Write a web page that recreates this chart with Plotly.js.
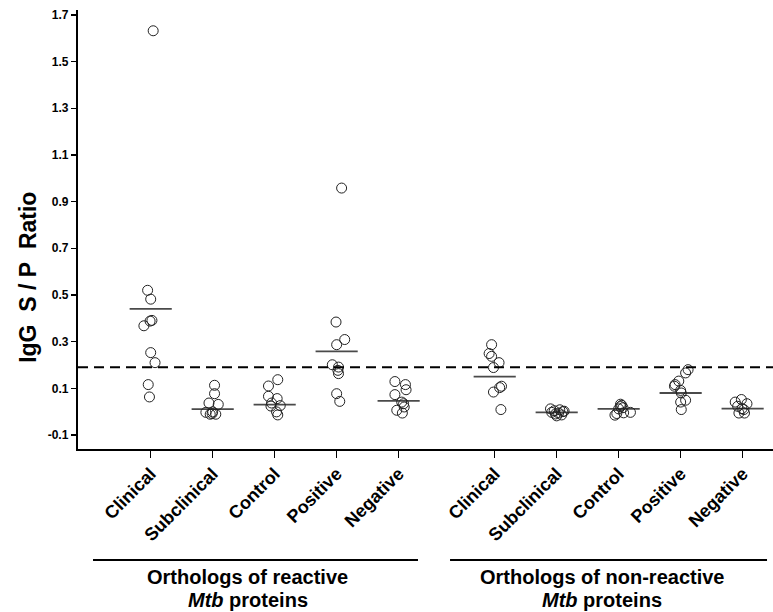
<!DOCTYPE html>
<html><head><meta charset="utf-8">
<script src="https://cdn.plot.ly/plotly-3.0.1.min.js"></script>
<style>html,body{margin:0;padding:0;background:#fff;}#chart{width:773px;height:612px;}</style>
</head><body><div id="chart"></div>
<script>
// ---------- data ----------
const categories = ['Clinical', 'Subclinical', 'Control', 'Positive', 'Negative'];
const groupLine1 = ['Orthologs of reactive', 'Orthologs of non-reactive'];
const groupLine2 = ['<i>Mtb</i> proteins', '<i>Mtb</i> proteins'];
const yTickValues = [-0.1, 0.1, 0.3, 0.5, 0.7, 0.9, 1.1, 1.3, 1.5, 1.7];
const yTickLabels = ['-0.1', '0.1', '0.3', '0.5', '0.7', '0.9', '1.1', '1.3', '1.5', '1.7'];
const yTitle = 'IgG\u00a0 S / P\u00a0 Ratio';
const cutoff = 0.19;

// Orthologs of reactive Mtb proteins
const reactiveClinical      = [1.632, 0.52, 0.482, 0.391, 0.388, 0.368, 0.253, 0.21, 0.116, 0.063];
const reactiveClinicalJit   = [0.04, -0.05, 0.0, 0.02, -0.01, -0.11, 0.0, 0.07, -0.04, -0.02];
const reactiveSubclinical   = [0.113, 0.077, 0.037, 0.031, -0.003, -0.001, -0.011, -0.011, -0.008];
const reactiveSubclinicalJit= [0.03, 0.03, -0.06, 0.09, -0.11, 0.0, 0.05, -0.04, -0.01];
const reactiveControl       = [0.137, 0.110, 0.066, 0.056, 0.037, 0.026, 0.024, -0.001, -0.014];
const reactiveControlJit    = [0.05, -0.10, -0.10, 0.04, -0.05, 0.09, -0.06, 0.03, 0.05];
const reactivePositive      = [0.958, 0.384, 0.309, 0.287, 0.201, 0.191, 0.177, 0.163, 0.077, 0.044];
const reactivePositiveJit   = [0.08, -0.01, 0.13, 0.0, -0.07, 0.03, 0.02, 0.03, 0.0, 0.05];
const reactiveNegative      = [0.129, 0.116, 0.094, 0.073, 0.041, 0.034, 0.020, 0.006, -0.006];
const reactiveNegativeJit   = [-0.06, 0.11, 0.12, -0.06, 0.05, 0.08, 0.09, -0.03, 0.06];
const reactiveMeans         = [0.44, 0.011, 0.03, 0.258, 0.046];

// Orthologs of non-reactive Mtb proteins
const nonReactiveClinical      = [0.287, 0.249, 0.237, 0.210, 0.189, 0.109, 0.103, 0.084, 0.009];
const nonReactiveClinicalJit   = [-0.05, -0.09, -0.05, 0.07, -0.02, 0.11, 0.08, -0.02, 0.10];
const nonReactiveSubclinical   = [0.012, 0.008, 0.004, 0.0, -0.003, -0.006, -0.010, -0.014, -0.018, 0.002];
const nonReactiveSubclinicalJit= [-0.10, 0.05, -0.04, 0.10, -0.08, 0.03, -0.02, 0.08, 0.0, 0.12];
const nonReactiveControl       = [0.032, 0.027, 0.022, 0.017, 0.012, -0.008, -0.005, -0.003, -0.015];
const nonReactiveControlJit    = [0.03, 0.05, 0.03, 0.07, 0.0, -0.03, 0.08, 0.19, -0.06];
const nonReactivePositive      = [0.180, 0.166, 0.131, 0.116, 0.109, 0.091, 0.080, 0.049, 0.041, 0.009];
const nonReactivePositiveJit   = [0.12, 0.08, -0.03, -0.09, -0.10, 0.0, 0.01, 0.08, 0.0, 0.01];
const nonReactiveNegative      = [0.052, 0.041, 0.034, 0.023, 0.013, 0.009, -0.006, -0.006];
const nonReactiveNegativeJit   = [-0.02, -0.12, 0.07, -0.08, -0.01, 0.02, -0.06, 0.03];
const nonReactiveMeans         = [0.15, -0.003, 0.012, 0.08, 0.013];

// ---------- build ----------
const groups = [
  [reactiveClinical, reactiveClinicalJit], [reactiveSubclinical, reactiveSubclinicalJit],
  [reactiveControl, reactiveControlJit], [reactivePositive, reactivePositiveJit],
  [reactiveNegative, reactiveNegativeJit],
  [nonReactiveClinical, nonReactiveClinicalJit], [nonReactiveSubclinical, nonReactiveSubclinicalJit],
  [nonReactiveControl, nonReactiveControlJit], [nonReactivePositive, nonReactivePositiveJit],
  [nonReactiveNegative, nonReactiveNegativeJit]
];
const means = reactiveMeans.concat(nonReactiveMeans);
const slotPos = i => 1 + i + (i >= 5 ? 0.55 : 0);

const px = [], py = [];
groups.forEach((g, i) => {
  g[0].forEach((v, j) => { px.push(slotPos(i) + g[1][j]); py.push(v); });
});

const mx = [], my = [];
means.forEach((m, i) => {
  const p = slotPos(i);
  mx.push(p - 0.34, p + 0.34, null);
  my.push(m, m, null);
});

const tickVals = [], tickText = [];
for (let i = 0; i < 10; i++) { tickVals.push(slotPos(i)); tickText.push(categories[i % 5]); }

const FONT = 'Liberation Sans, Arial, Helvetica, sans-serif';
const labFont = { family: FONT, size: 20, weight: 'bold', color: '#000' };

const traces = [
  { type: 'scatter', mode: 'lines', x: mx, y: my, hoverinfo: 'skip',
    line: { color: '#4a4a4a', width: 1.8 }, showlegend: false },
  { type: 'scatter', mode: 'markers', x: px, y: py,
    marker: { symbol: 'circle-open', size: 10, color: '#222', line: { width: 1, color: '#222' } },
    showlegend: false }
];

const groupCenters = [0.2446, 0.754];
const annotations = [];
groupCenters.forEach((cx, k) => {
  annotations.push({ xref: 'paper', yref: 'paper', x: cx, y: -0.2916, xanchor: 'center', yanchor: 'middle',
    text: groupLine1[k], showarrow: false, font: labFont });
  annotations.push({ xref: 'paper', yref: 'paper', x: cx, y: -0.343, xanchor: 'center', yanchor: 'middle',
    text: groupLine2[k], showarrow: false, font: labFont });
});
annotations.push({ xref: 'paper', yref: 'paper', x: -0.0719, y: 0.39, xanchor: 'center', yanchor: 'middle',
  textangle: -90, text: yTitle, showarrow: false,
  font: { family: FONT, size: 23, weight: 'bold', color: '#000' } });

const layout = {
  width: 773, height: 612,
  margin: { l: 78, r: 0, t: 10, b: 163, pad: 0 },
  paper_bgcolor: '#fff', plot_bgcolor: '#fff',
  font: { family: FONT, color: '#000' },
  xaxis: {
    range: [-0.173, 11.04], showgrid: false, zeroline: false, automargin: false,
    showline: true, linecolor: '#000', linewidth: 2.2,
    tickmode: 'array', tickvals: tickVals, ticktext: tickText,
    ticks: 'outside', ticklen: 7, tickwidth: 1.5, tickcolor: '#000',
    ticklabelstandoff: -2,
    tickangle: -45, tickfont: { family: FONT, size: 18, weight: 'bold', color: '#000' }
  },
  yaxis: {
    range: [-0.16, 1.721], showgrid: false, zeroline: false, automargin: false,
    showline: true, linecolor: '#000', linewidth: 2.2,
    tickmode: 'array', tickvals: yTickValues, ticktext: yTickLabels,
    ticks: 'outside', ticklen: 5, tickwidth: 1.5, tickcolor: '#000',
    tickfont: { family: FONT, size: 12, weight: 'bold', color: '#000' }
  },
  shapes: [
    { type: 'line', xref: 'paper', yref: 'y', x0: 0, x1: 1, y0: cutoff, y1: cutoff,
      line: { color: '#000', width: 2, dash: '10px,6px' } },
    { type: 'line', xref: 'paper', yref: 'paper', x0: 0.0216, x1: 0.4892, y0: -0.2528, y1: -0.2528,
      line: { color: '#000', width: 2.2 } },
    { type: 'line', xref: 'paper', yref: 'paper', x0: 0.5353, x1: 0.9914, y0: -0.2528, y1: -0.2528,
      line: { color: '#000', width: 2.2 } }
  ],
  annotations: annotations
};

Plotly.newPlot('chart', traces, layout, { displayModeBar: false, staticPlot: true });
</script>
</body></html>
